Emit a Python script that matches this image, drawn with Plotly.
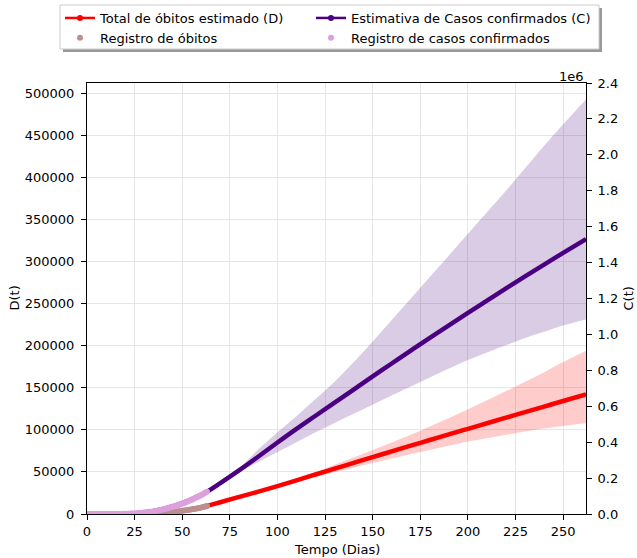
import plotly.graph_objects as go

# Observed records, one value per day (days 0..63)
dias_registro = list(range(0, 64))
obitos_registro = [
    0, 0, 0, 0, 0, 0, 0, 0, 0, 0,
    0, 0, 0, 0, 0, 0, 1, 3, 6, 11,
    15, 25, 34, 46, 59, 77, 92, 114, 136, 159,
    201, 240, 300, 370, 450, 540, 640, 780, 920, 1100,
    1300, 1480, 1700, 1950, 2250, 2600, 2850, 3100, 3350, 3620,
    3900, 4200, 4500, 4800, 5150, 5500, 5900, 6300, 6750, 7200,
    7700, 8300, 8900, 9500,
]
casos_registro = [
    0, 0, 1, 2, 2, 4, 8, 13, 19, 25,
    31, 52, 77, 98, 121, 200, 291, 428, 621, 904,
    1128, 1546, 1891, 2201, 2433, 3400, 3900, 4600, 5700, 6800,
    7900, 9100, 10300, 11400, 12800, 14700, 16800, 19000, 21400, 23600,
    26400, 28600, 31100, 34300, 37200, 40300, 43600, 46800, 50300, 54000,
    58000, 61700, 66000, 70600, 75200, 80000, 84800, 90000, 95200, 100500,
    106000, 111800, 117900, 124000,
]

# Model estimates
dias_est = [0, 10, 20, 30, 40, 50, 60, 63, 70, 80, 90, 100, 110, 120, 130, 140,
            150, 160, 170, 180, 190, 200, 210, 220, 230, 240, 250, 262]
obitos_est = [0, 0, 20, 250, 1500, 4000, 7800, 9500, 14000, 20300, 26600, 33200,
              40000, 46900, 53800, 60700, 67600, 74400, 81200, 87900, 94600,
              101200, 107800, 114400, 121000, 127600, 134200, 142000]
casos_est = [0, 50, 1300, 8500, 28500, 61000, 107000, 124000, 172000, 244000,
             320000, 398000, 474000, 547000, 620000, 693000, 766000, 838000,
             910000, 981000, 1051000, 1120000, 1188000, 1256000, 1323000,
             1389000, 1454000, 1531000]

# Confidence bands (from day 63 on)
dias_banda = [63, 70, 80, 90, 100, 110, 120, 130, 140, 150, 160, 170, 180, 190,
              200, 210, 220, 230, 240, 250, 262]
obitos_inf = [9500, 14000, 20100, 26000, 32300, 38400, 44000, 49500, 55000,
              60500, 66000, 71000, 76000, 81000, 86000, 90000, 94000, 98000,
              101500, 104500, 107700]
obitos_sup = [9500, 14000, 20500, 27200, 34300, 42000, 50000, 58500, 67000,
              76000, 85000, 94000, 104000, 114000, 124500, 135000, 146000,
              157000, 168500, 180500, 194000]
casos_inf = [124000, 170000, 234000, 290000, 345000, 400000, 455000, 507000,
             558000, 609000, 660000, 710000, 760000, 810000, 858000, 900000,
             940000, 980000, 1015000, 1050000, 1083000]
casos_sup = [124000, 174000, 258000, 360000, 455000, 545000, 640000, 737000,
             845000, 960000, 1080000, 1200000, 1320000, 1440000, 1560000,
             1680000, 1800000, 1925000, 2050000, 2170000, 2310000]

x_ticks = [0, 25, 50, 75, 100, 125, 150, 175, 200, 225, 250]
d_ticks = [0, 50000, 100000, 150000, 200000, 250000, 300000, 350000, 400000,
           450000, 500000]
c_ticks = [0, 200000, 400000, 600000, 800000, 1000000, 1200000, 1400000,
           1600000, 1800000, 2000000, 2200000, 2400000]
c_tick_text = ["0.0", "0.2", "0.4", "0.6", "0.8", "1.0", "1.2", "1.4", "1.6",
               "1.8", "2.0", "2.2", "2.4"]

RED = "red"
INDIGO = "indigo"
FONT = "DejaVu Sans"

fig = go.Figure()

# Deaths band + estimate (left axis)
fig.add_trace(go.Scatter(x=dias_banda, y=obitos_inf, mode="lines",
                         line=dict(width=0, shape="spline"), showlegend=False,
                         hoverinfo="skip"))
fig.add_trace(go.Scatter(x=dias_banda, y=obitos_sup, mode="lines",
                         line=dict(width=0, shape="spline"), fill="tonexty",
                         fillcolor="rgba(255,0,0,0.2)", showlegend=False,
                         hoverinfo="skip"))
fig.add_trace(go.Scatter(x=dias_est, y=obitos_est, mode="lines",
                         line=dict(color=RED, width=4.5, shape="spline"),
                         showlegend=False))
fig.add_trace(go.Scatter(x=dias_registro, y=obitos_registro, mode="markers",
                         marker=dict(color="rosybrown", size=6, line=dict(width=0)),
                         showlegend=False))

# Cases band + estimate (right axis)
fig.add_trace(go.Scatter(x=dias_banda, y=casos_inf, mode="lines", yaxis="y2",
                         line=dict(width=0, shape="spline"), showlegend=False,
                         hoverinfo="skip"))
fig.add_trace(go.Scatter(x=dias_banda, y=casos_sup, mode="lines", yaxis="y2",
                         line=dict(width=0, shape="spline"), fill="tonexty",
                         fillcolor="rgba(75,0,130,0.2)", showlegend=False,
                         hoverinfo="skip"))
fig.add_trace(go.Scatter(x=dias_est, y=casos_est, mode="lines", yaxis="y2",
                         line=dict(color=INDIGO, width=4.5, shape="spline"),
                         showlegend=False))
fig.add_trace(go.Scatter(x=dias_registro, y=casos_registro, mode="markers",
                         yaxis="y2",
                         marker=dict(color="plum", size=6, line=dict(width=0)),
                         showlegend=False))

# Legend entries: left column (deaths) and right column (cases)
fig.add_trace(go.Scatter(x=[None], y=[None], mode="lines+markers",
                         name="Total de óbitos estimado (D)", legend="legend",
                         line=dict(color=RED, width=2.5),
                         marker=dict(color=RED, size=6)))
fig.add_trace(go.Scatter(x=[None], y=[None], mode="markers",
                         name="Registro de óbitos", legend="legend",
                         marker=dict(color="rosybrown", size=6)))
fig.add_trace(go.Scatter(x=[None], y=[None], mode="lines+markers",
                         name="Estimativa de Casos confirmados (C)",
                         legend="legend2",
                         line=dict(color=INDIGO, width=2.5),
                         marker=dict(color=INDIGO, size=6)))
fig.add_trace(go.Scatter(x=[None], y=[None], mode="markers",
                         name="Registro de casos confirmados", legend="legend2",
                         marker=dict(color="plum", size=6)))

W, H = 637, 558
L, R, T, B = 87, 51, 83, 44
PW, PH = W - L - R, H - T - B


def px_x(px):
    return (px - L) / PW


def px_y(py):
    return (H - B - py) / PH


axis_common = dict(
    showline=True, linecolor="black", linewidth=1,
    ticks="outside", ticklen=5, tickwidth=1, tickcolor="black",
    tickfont=dict(family=FONT, size=13, color="black"),
    zeroline=False,
)

legend_common = dict(
    orientation="v", xanchor="left", yanchor="top", traceorder="normal",
    bgcolor="rgba(0,0,0,0)", borderwidth=0, itemwidth=30, tracegroupgap=0,
    font=dict(family=FONT, size=13, color="black"),
)

fig.update_layout(
    width=W, height=H,
    margin=dict(l=L, r=R, t=T, b=B, autoexpand=False),
    paper_bgcolor="white", plot_bgcolor="white",
    font=dict(family=FONT, size=13, color="black"),
    xaxis=dict(range=[0, 262], tickvals=x_ticks, mirror=True,
               showgrid=True, gridcolor="#e6e6e6", gridwidth=1,
               **axis_common),
    yaxis=dict(range=[0, 512000], tickvals=d_ticks,
               ticktext=[str(v) for v in d_ticks], ticklabelstandoff=4,
               showgrid=True, gridcolor="#e6e6e6", gridwidth=1, **axis_common),
    yaxis2=dict(range=[0, 2400000], tickvals=c_ticks, ticktext=c_tick_text,
                ticklabelstandoff=3,
                overlaying="y", side="right", showgrid=False, **axis_common),
    showlegend=True,
    legend=dict(x=px_x(60), y=px_y(3), **legend_common),
    legend2=dict(x=px_x(311), y=px_y(3), **legend_common),
    annotations=[
        dict(text="Tempo (Dias)", x=0.5, y=px_y(549), xref="paper", yref="paper",
             showarrow=False, xanchor="center", yanchor="middle",
             font=dict(family=FONT, size=13)),
        dict(text="D(t)", x=px_x(14), y=0.5, xref="paper", yref="paper",
             showarrow=False, textangle=-90, xanchor="center", yanchor="middle",
             font=dict(family=FONT, size=13)),
        dict(text="C(t)", x=px_x(628), y=0.5, xref="paper", yref="paper",
             showarrow=False, textangle=-90, xanchor="center", yanchor="middle",
             font=dict(family=FONT, size=13)),
        dict(text="1e6", x=1.0, y=px_y(76), xref="paper", yref="paper",
             showarrow=False, xanchor="right", yanchor="middle",
             font=dict(family=FONT, size=13)),
    ],
    shapes=[
        # legend shadow and frame
        dict(type="rect", xref="paper", yref="paper",
             x0=px_x(63), x1=px_x(602), y0=px_y(52), y1=px_y(8),
             fillcolor="rgba(0,0,0,0.4)", line=dict(width=0), layer="above"),
        dict(type="rect", xref="paper", yref="paper",
             x0=px_x(60), x1=px_x(599), y0=px_y(49), y1=px_y(5),
             fillcolor="white", line=dict(color="#cccccc", width=1),
             layer="above"),
    ],
)

fig.write_html("out.html")
